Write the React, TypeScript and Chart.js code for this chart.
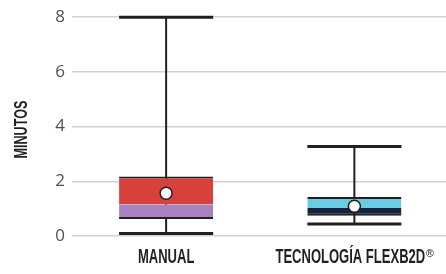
import { useEffect, useRef } from 'react';
import { Chart, registerables } from 'chart.js';

Chart.register(...registerables);

const categories = ['MANUAL', 'TECNOLOGÍA FLEXB2D®'];
const whiskerMin = [0.09, 0.44];
const q1 = [0.62, 0.74];
const median = [1.16, 1.02];
const q3 = [2.18, 1.43];
const whiskerMax = [8.0, 3.27];
const mean = [1.56, 1.09];
const yAxisTitle = 'MINUTOS';

const lowerColors = ['#A782BE', '#17223F'];
const upperColors = ['#D7403B', '#6CCCE2'];
const INK = '#231F20';
const LABEL_FAMILY = '"Liberation Sans", Arial, sans-serif';
const SQUEEZE = 0.62;

const whiskerPlugin = {
  id: 'whiskers',
  beforeDatasetsDraw(chart: any) {
    const { ctx } = chart;
    const y = chart.scales.y;
    const meta = chart.getDatasetMeta(1);
    ctx.save();
    ctx.strokeStyle = INK;
    meta.data.forEach((bar: any, i: number) => {
      const x = bar.x;
      const w = bar.width;
      ctx.lineWidth = 2;
      ctx.beginPath();
      ctx.moveTo(x, y.getPixelForValue(whiskerMin[i]));
      ctx.lineTo(x, y.getPixelForValue(whiskerMax[i]));
      ctx.stroke();
      ctx.lineWidth = 3;
      [whiskerMin[i], whiskerMax[i]].forEach((v) => {
        const py = y.getPixelForValue(v);
        ctx.beginPath();
        ctx.moveTo(x - w / 2, py);
        ctx.lineTo(x + w / 2, py);
        ctx.stroke();
      });
    });
    ctx.restore();
  },
};

// Condensed labels (category labels and y-axis title), drawn as canvas text.
const condensedLabelsPlugin = {
  id: 'condensedLabels',
  afterDraw(chart: any) {
    const { ctx } = chart;
    const xs = chart.scales.x;
    const ys = chart.scales.y;
    ctx.save();
    ctx.fillStyle = INK;
    ctx.textBaseline = 'alphabetic';
    ctx.textAlign = 'left';
    const baseline = xs.top + 27;
    categories.forEach((label, i) => {
      const cx = xs.getPixelForTick(i);
      const hasReg = label.includes('®');
      const main = label.replace('®', '');
      ctx.font = `bold 21px ${LABEL_FAMILY}`;
      const mw = ctx.measureText(main).width * SQUEEZE;
      ctx.font = `11px ${LABEL_FAMILY}`;
      const rw = hasReg ? ctx.measureText('®').width : 0;
      const start = cx - (mw + rw) / 2;
      ctx.save();
      ctx.translate(start, baseline);
      ctx.scale(SQUEEZE, 1);
      ctx.font = `bold 21px ${LABEL_FAMILY}`;
      ctx.fillText(main, 0, 0);
      ctx.restore();
      if (hasReg) {
        ctx.font = `11px ${LABEL_FAMILY}`;
        ctx.fillText('®', start + mw + 0.5, baseline - 6);
      }
    });
    // y-axis title
    ctx.save();
    ctx.translate(27, (ys.top + ys.bottom) / 2 + 3);
    ctx.rotate(-Math.PI / 2);
    ctx.scale(0.7, 1);
    ctx.textAlign = 'center';
    ctx.font = `bold 18px ${LABEL_FAMILY}`;
    ctx.fillText(yAxisTitle, 0, 0);
    ctx.restore();
    ctx.restore();
  },
};

export default function App() {
  const ref = useRef<HTMLCanvasElement | null>(null);

  useEffect(() => {
    if (!ref.current) return;
    const chart = new Chart(ref.current, {
      type: 'bar',
      data: {
        labels: categories,
        datasets: [
          {
            type: 'line',
            label: 'Media',
            data: mean,
            showLine: false,
            pointRadius: 6,
            pointHoverRadius: 6,
            pointBackgroundColor: '#FFFFFF',
            pointBorderColor: INK,
            pointBorderWidth: 1.5,
            order: 0,
          } as any,
          {
            label: 'Q1–Mediana',
            data: categories.map((_, i) => [q1[i], median[i]]),
            backgroundColor: lowerColors,
            borderColor: INK,
            borderWidth: { top: 0, right: 0, bottom: 2, left: 0 },
            borderSkipped: false,
            grouped: false,
            order: 1,
          },
          {
            label: 'Mediana–Q3',
            data: categories.map((_, i) => [median[i], q3[i]]),
            backgroundColor: upperColors,
            borderColor: INK,
            borderWidth: { top: 2, right: 0, bottom: 0, left: 0 },
            borderSkipped: false,
            grouped: false,
            order: 1,
          },
        ],
      },
      options: {
        responsive: true,
        maintainAspectRatio: false,
        animation: false,
        datasets: { bar: { categoryPercentage: 0.5, barPercentage: 1 } },
        layout: { padding: { top: 16, right: 0, bottom: 0, left: 0 } },
        plugins: { legend: { display: false }, tooltip: { enabled: false } },
        scales: {
          x: {
            grid: { display: false },
            border: { display: false },
            ticks: { display: false },
            afterFit(scale: any) {
              scale.height = 38;
              scale.paddingLeft = 0;
              scale.paddingRight = 0;
            },
          },
          y: {
            min: 0,
            max: 8,
            ticks: {
              stepSize: 2,
              color: '#505050',
              padding: 7,
              font: { family: '"Open Sans", sans-serif', size: 17 },
            },
            grid: { color: '#D2D2D2', lineWidth: 1.5, drawTicks: false },
            border: { display: false },
            title: { display: false, text: yAxisTitle },
            afterFit(scale: any) {
              scale.width = 72;
            },
          },
        },
      },
      plugins: [whiskerPlugin, condensedLabelsPlugin],
    });
    return () => chart.destroy();
  }, []);

  return (
    <div style={{ position: 'absolute', left: 0, top: 0, width: 446, height: 274, overflow: 'hidden', background: '#fff' }}>
      <div style={{ position: 'relative', width: 456, height: 274 }}>
        <canvas ref={ref} />
      </div>
    </div>
  );
}
